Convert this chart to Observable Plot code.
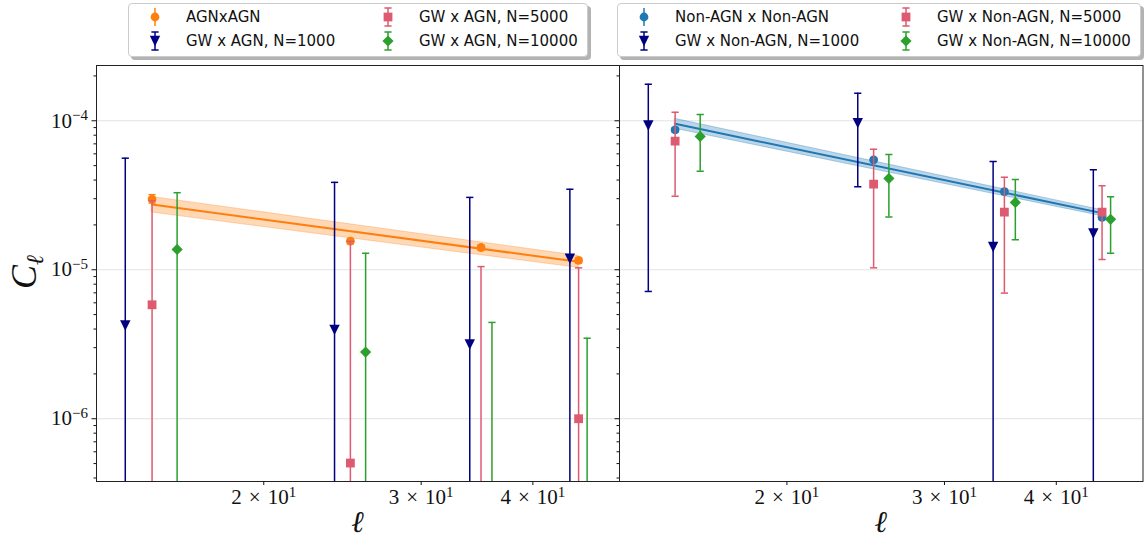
<!DOCTYPE html>
<html><head><meta charset="utf-8">
<script src="https://cdn.jsdelivr.net/npm/d3@7"></script>
<script src="https://cdn.jsdelivr.net/npm/@observablehq/plot@0.6"></script>
<style>
body{margin:0;background:#fff;}
#wrap{position:relative;width:1144px;height:541px;overflow:hidden;background:#fff;}
.legend{position:absolute;top:3px;height:52px;border:1px solid #cccccc;border-radius:4px;background:#fff;box-shadow:3px 3px 0 #b3b3b3;font-family:"DejaVu Sans","Open Sans",sans-serif;font-size:15px;color:#111;z-index:5;}
.item{position:absolute;height:24px;}
.item svg{position:absolute;left:-10px;top:0;}
.item span{position:absolute;top:3px;white-space:nowrap;}
.panel{position:absolute;top:60px;}
</style></head>
<body><div id="wrap"></div>
<script>
// ---------- data ----------
const ell      = [15, 25, 35, 45];   // tracer bins
const ellN1000 = [14, 24, 34, 44];   // plotted with small offsets
const ellN5000 = [15, 25, 35, 45];
const ellN10000= [16, 26, 36, 46];
const fitEll   = [15, 45];
const BELOW = 1e-9;                  // error bar reaching below the axis

// AGN panel
const agnVal = [2.98e-5, 1.556e-5, 1.41e-5, 1.155e-5];
const agnLo  = [2.80e-5, 1.49e-5, 1.35e-5, 1.11e-5];
const agnHi  = [3.20e-5, 1.62e-5, 1.47e-5, 1.20e-5];
const agnFit   = [2.74e-5, 1.13e-5];
const agnFitLo = [2.42e-5, 1.03e-5];
const agnFitHi = [3.08e-5, 1.24e-5];

const agnN1000Val = [4.22e-6, 3.95e-6, 3.15e-6, 1.185e-5];
const agnN1000Lo  = [BELOW, BELOW, BELOW, BELOW];
const agnN1000Hi  = [5.61e-5, 3.86e-5, 3.06e-5, 3.47e-5];

const agnN5000Val = [5.82e-6, 5.04e-7, 2.0e-7, 1.0e-6];
const agnN5000Lo  = [BELOW, BELOW, BELOW, BELOW];
const agnN5000Hi  = [2.90e-5, 1.55e-5, 1.05e-5, 1.03e-5];

const agnN10000Val = [1.37e-5, 2.80e-6, 2.0e-7, 2.0e-7];
const agnN10000Lo  = [BELOW, BELOW, BELOW, BELOW];
const agnN10000Hi  = [3.29e-5, 1.29e-5, 4.43e-6, 3.47e-6];

// Non-AGN panel
const nonVal = [8.70e-5, 5.47e-5, 3.35e-5, 2.25e-5];
const nonLo  = [8.40e-5, 5.27e-5, 3.23e-5, 2.17e-5];
const nonHi  = [9.00e-5, 5.67e-5, 3.47e-5, 2.33e-5];
const nonFit   = [9.54e-5, 2.40e-5];
const nonFitLo = [8.84e-5, 2.29e-5];
const nonFitHi = [1.03e-4, 2.51e-5];

const nonN1000Val = [9.30e-5, 9.64e-5, 1.42e-5, 1.75e-5];
const nonN1000Lo  = [7.15e-6, 3.61e-5, BELOW, BELOW];
const nonN1000Hi  = [1.76e-4, 1.53e-4, 5.33e-5, 4.69e-5];

const nonN5000Val = [7.30e-5, 3.76e-5, 2.44e-5, 2.44e-5];
const nonN5000Lo  = [3.12e-5, 1.03e-5, 6.97e-6, 1.17e-5];
const nonN5000Hi  = [1.14e-4, 6.44e-5, 4.18e-5, 3.66e-5];

const nonN10000Val = [7.85e-5, 4.10e-5, 2.83e-5, 2.18e-5];
const nonN10000Lo  = [4.59e-5, 2.26e-5, 1.59e-5, 1.29e-5];
const nonN10000Hi  = [1.10e-4, 5.94e-5, 4.03e-5, 3.09e-5];

// axes
const xDomain = [13, 50];
const yDomain = [3.79e-7, 2.35e-4];
const xTicks = [20, 30, 40];
const yMajor = [1e-6, 1e-5, 1e-4];
const yMinorMult = [2, 3, 4, 5, 6, 7, 8, 9];

// legends
const leftLabels  = ["AGNxAGN", "GW x AGN, N=1000", "GW x AGN, N=5000", "GW x AGN, N=10000"];
const rightLabels = ["Non-AGN x Non-AGN", "GW x Non-AGN, N=1000", "GW x Non-AGN, N=5000", "GW x Non-AGN, N=10000"];

const C = {orange:"#ff7f0e", blue:"#1f77b4", navy:"#000080", red:"#dd5a70", green:"#2ca02c"};
const SERIF = '"Liberation Serif","DejaVu Serif",serif';

// ---------- symbols ----------
const triDown = {draw(ctx, size){const r=Math.sqrt(size/Math.PI); ctx.moveTo(-r,-r); ctx.lineTo(r,-r); ctx.lineTo(0,r); ctx.closePath();}};
const diamond = {draw(ctx, size){const r=Math.sqrt(size/Math.PI); ctx.moveTo(0,-r); ctx.lineTo(r,0); ctx.lineTo(0,r); ctx.lineTo(-r,0); ctx.closePath();}};
const square  = {draw(ctx, size){const r=Math.sqrt(size/Math.PI)*0.88; ctx.rect(-r,-r,2*r,2*r);}};
const cap     = {draw(ctx, size){const r=Math.sqrt(size/Math.PI); ctx.moveTo(-r,0); ctx.lineTo(r,0);}};

const rows = (xs, v, lo, hi) => xs.map((x,i)=>({x, y:v[i], lo:lo[i], hi:hi[i]}));

const yMinor = [];
for (const k of [-7,-6,-5,-4]) for (const m of yMinorMult) {const v = m*Math.pow(10,k); if (v>yDomain[0] && v<yDomain[1]) yMinor.push(v);}

function series(data, color, symbol, r, caps=true, sw=1.5){
  const marks = [
    Plot.ruleX(data, {x:"x", y1:"lo", y2:"hi", stroke:color, strokeWidth:sw, clip:true})
  ];
  if (caps) {
    marks.push(Plot.dot(data, {x:"x", y:"hi", symbol:cap, r:3.6, stroke:color, fill:"none", strokeWidth:sw, clip:true}));
    marks.push(Plot.dot(data, {x:"x", y:"lo", symbol:cap, r:3.6, stroke:color, fill:"none", strokeWidth:sw, clip:true}));
  }
  marks.push(Plot.dot(data, {x:"x", y:"y", symbol, r, fill:color, stroke:"none", clip:true}));
  return marks;
}

function panel(cfg){
  const fitData = fitEll.map((x,i)=>({x, y:cfg.fit[i], lo:cfg.fitLo[i], hi:cfg.fitHi[i]}));
  const svg = Plot.plot({
    width: cfg.width, height: 481,
    marginLeft: cfg.ml, marginRight: cfg.mr, marginTop: 5, marginBottom: 60,
    x: {type:"log", domain:xDomain},
    y: {type:"log", domain:yDomain},
    style: {fontFamily:SERIF, overflow:"visible", background:"transparent", color:"#111"},
    marks: [
      Plot.gridY(yMajor, {stroke:"#cfcfcf", strokeOpacity:0.6, strokeWidth:1}),
      Plot.axisY(yMinor, {tickSize:2.5, tickFormat:()=>"", label:null, strokeWidth:1}),
      Plot.axisY(yMajor, {tickSize:4.5, tickPadding:4, label:null,
        tickFormat: cfg.ylabels ? (d=>"10^\u2212"+Math.round(-Math.log10(d))) : (()=>"")}),
      Plot.axisX(xTicks, {tickSize:4, tickPadding:4, label:null, tickFormat:d=>(d/10)+"\u2004\u00d7\u200410^1"}),
      Plot.areaY(fitData, {x:"x", y1:"lo", y2:"hi", fill:cfg.color, fillOpacity:0.3, stroke:cfg.color, strokeOpacity:0.3, clip:true}),
      Plot.line(fitData, {x:"x", y:"y", stroke:cfg.color, strokeWidth:2, clip:true}),
      ...series(cfg.main, cfg.color, "circle", 4.4, true, 1.2),
      ...series(cfg.n1000, C.navy, triDown, 5.2),
      ...series(cfg.n5000, C.red, square, 5),
      ...series(cfg.n10000, C.green, diamond, 5.6),
      Plot.frame({stroke:"#222", strokeWidth:1})
    ]
  });
  // superscripts + font size for tick labels
  d3.select(svg).selectAll("text").each(function(){
    const t = this.textContent;
    if (!t.includes("^")) return;
    const [a,b] = t.split("^");
    const s = d3.select(this); s.text(a);
    this.setAttribute("font-size", "21");
    this.style.setProperty("font-size", "21px", "important");
    this.style.setProperty("font-family", SERIF, "important");
    const ts = s.append("tspan").attr("dy","-0.5em").text(b);
    ts.node().setAttribute("font-size","15");
    ts.node().style.setProperty("font-size","15px","important");
  });
  const cx = cfg.ml + (cfg.width - cfg.ml - cfg.mr)/2;
  d3.select(svg).append("text").attr("x", cx).attr("y", 472).attr("text-anchor","middle")
    .style("font-family",SERIF).style("font-style","italic").style("font-size","30px").attr("fill","#111").text("\u2113");
  if (cfg.ylabels) {
    const t = d3.select(svg).append("text").attr("transform","translate(36,212) rotate(-90)").attr("text-anchor","middle")
      .style("font-family",SERIF).style("font-style","italic").style("font-size","36px").attr("fill","#111");
    t.append("tspan").text("C");
    t.append("tspan").attr("dy","0.28em").style("font-size","24px").text("\u2113");
  }
  return svg;
}

const wrap = document.getElementById("wrap");

const left = panel({width:619, ml:96, mr:0, color:C.orange, ylabels:true,
  fit:agnFit, fitLo:agnFitLo, fitHi:agnFitHi,
  main: rows(ell, agnVal, agnLo, agnHi),
  n1000: rows(ellN1000, agnN1000Val, agnN1000Lo, agnN1000Hi),
  n5000: rows(ellN5000, agnN5000Val, agnN5000Lo, agnN5000Hi),
  n10000: rows(ellN10000, agnN10000Val, agnN10000Lo, agnN10000Hi)});
left.classList.add("panel"); left.style.left = "0px";
wrap.appendChild(left);

const right = panel({width:525, ml:0, mr:1.5, color:C.blue, ylabels:false,
  fit:nonFit, fitLo:nonFitLo, fitHi:nonFitHi,
  main: rows(ell, nonVal, nonLo, nonHi),
  n1000: rows(ellN1000, nonN1000Val, nonN1000Lo, nonN1000Hi),
  n5000: rows(ellN5000, nonN5000Val, nonN5000Lo, nonN5000Hi),
  n10000: rows(ellN10000, nonN10000Val, nonN10000Lo, nonN10000Hi)});
right.classList.add("panel"); right.style.left = "619px";
wrap.appendChild(right);

// ---------- legends ----------
function swatch(color, kind){
  const s = d3.create("svg").attr("width",20).attr("height",24);
  s.append("line").attr("x1",10).attr("x2",10).attr("y1",3).attr("y2",21).attr("stroke",color).attr("stroke-width",1.5);
  if (kind !== "circle") {
    for (const y of [3,21]) s.append("line").attr("x1",6.4).attr("x2",13.6).attr("y1",y).attr("y2",y).attr("stroke",color).attr("stroke-width",1.5);
  }
  const p = d3.path();
  if (kind==="circle") p.arc(10,12,4.4,0,2*Math.PI);
  if (kind==="tri") {p.moveTo(4.8,6.8); p.lineTo(15.2,6.8); p.lineTo(10,17.2); p.closePath();}
  if (kind==="square") p.rect(5.6,7.6,8.8,8.8);
  if (kind==="diamond") {p.moveTo(10,6.4); p.lineTo(15.6,12); p.lineTo(10,17.6); p.lineTo(4.4,12); p.closePath();}
  s.append("path").attr("d",p.toString()).attr("fill",color);
  return s.node();
}
function legend(left, width, labels, mainColor, col2marker, textOff){
  const box = document.createElement("div");
  box.className = "legend"; box.style.left = left+"px"; box.style.width = width+"px";
  const spec = [[mainColor,"circle"],[C.navy,"tri"],[C.red,"square"],[C.green,"diamond"]];
  labels.forEach((lab,i)=>{
    const col = Math.floor(i/2), row = i%2;
    const it = document.createElement("div"); it.className = "item";
    it.style.left = (col===0 ? 26 : col2marker) + "px";
    it.style.top = (row===0 ? 1 : 25) + "px";
    it.appendChild(swatch(spec[i][0], spec[i][1]));
    const sp = document.createElement("span"); sp.textContent = lab; sp.style.left = textOff+"px";
    it.appendChild(sp);
    box.appendChild(it);
  });
  wrap.appendChild(box);
}
legend(128, 458, leftLabels, C.orange, 259, 31);
legend(617, 522, rightLabels, C.blue, 288, 31);
</script></body></html>
